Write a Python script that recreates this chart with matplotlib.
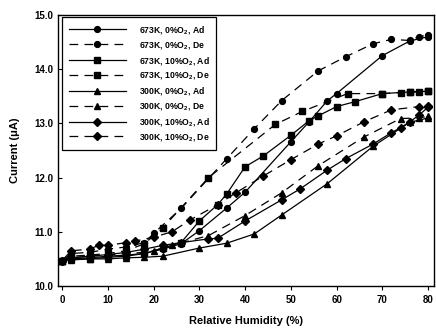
import matplotlib
matplotlib.use("Agg")
import matplotlib.pyplot as plt

plt.rcParams['font.family'] = ['Liberation Sans', 'DejaVu Sans']
plt.rcParams['mathtext.fontset'] = 'custom'
plt.rcParams['mathtext.bf'] = 'Liberation Sans:bold'
plt.rcParams['mathtext.rm'] = 'Liberation Sans:bold'

# ---- data ----
x_673_0_ad = [0, 2, 6, 10, 14, 18, 22, 26, 30, 36, 40, 50, 54, 58, 60, 70, 76, 80]
y_673_0_ad = [10.47, 10.5, 10.52, 10.55, 10.57, 10.6, 10.68, 10.78, 11.02, 11.44, 11.73, 12.66, 13.03, 13.42, 13.55, 14.25, 14.52, 14.6]

x_673_0_de = [0, 2, 6, 10, 14, 18, 20, 26, 36, 42, 48, 56, 62, 68, 72, 76, 78, 80]
y_673_0_de = [10.47, 10.6, 10.62, 10.68, 10.72, 10.8, 10.97, 11.43, 12.35, 12.9, 13.42, 13.97, 14.23, 14.47, 14.55, 14.53, 14.6, 14.63]

x_673_10_ad = [0, 2, 6, 10, 14, 18, 22, 26, 30, 34, 36, 40, 44, 50, 54, 56, 60, 64, 70, 74, 76, 78, 80]
y_673_10_ad = [10.47, 10.5, 10.5, 10.53, 10.55, 10.6, 10.7, 10.8, 11.2, 11.5, 11.7, 12.2, 12.4, 12.78, 13.05, 13.14, 13.31, 13.4, 13.55, 13.57, 13.58, 13.58, 13.6]

x_673_10_de = [0, 2, 6, 10, 14, 18, 22, 32, 46.6, 52.5, 62.4, 70, 76, 80]
y_673_10_de = [10.47, 10.55, 10.57, 10.6, 10.65, 10.78, 11.07, 12.0, 12.98, 13.22, 13.55, 13.55, 13.58, 13.6]

x_300_0_ad = [0, 2, 6, 10, 14, 18, 22, 30, 36, 42, 48, 58, 68, 76, 80]
y_300_0_ad = [10.47, 10.48, 10.5, 10.5, 10.52, 10.53, 10.55, 10.7, 10.79, 10.96, 11.31, 11.89, 12.58, 13.02, 13.1]

x_300_0_de = [0, 2, 6, 10, 14, 18, 20, 24, 32, 40, 48, 56, 66, 74, 78, 80]
y_300_0_de = [10.47, 10.52, 10.55, 10.57, 10.6, 10.62, 10.65, 10.75, 10.93, 11.3, 11.72, 12.22, 12.75, 13.09, 13.1, 13.13]

x_300_10_ad = [0, 2, 6, 10, 14, 18, 22, 26, 32, 34, 40, 48, 52, 58, 62, 68, 72, 74, 76, 78, 80]
y_300_10_ad = [10.47, 10.52, 10.55, 10.58, 10.62, 10.68, 10.75, 10.8, 10.87, 10.88, 11.2, 11.59, 11.79, 12.14, 12.35, 12.62, 12.83, 12.92, 13.03, 13.15, 13.3]

x_300_10_de = [0, 2, 6, 8, 10, 14, 16, 20, 24, 28, 34, 38, 44, 50, 56, 60, 66, 72, 78, 80]
y_300_10_de = [10.47, 10.65, 10.68, 10.75, 10.75, 10.8, 10.83, 10.9, 11.0, 11.22, 11.5, 11.72, 12.03, 12.33, 12.62, 12.77, 13.03, 13.25, 13.31, 13.32]

labels = [r"673K, 0%O$_\mathbf{2}$, Ad", r"673K, 0%O$_\mathbf{2}$, De",
          r"673K, 10%O$_\mathbf{2}$, Ad", r"673K, 10%O$_\mathbf{2}$, De",
          r"300K, 0%O$_\mathbf{2}$, Ad", r"300K, 0%O$_\mathbf{2}$, De",
          r"300K, 10%O$_\mathbf{2}$, Ad", r"300K, 10%O$_\mathbf{2}$, De"]

series = [(x_673_0_ad, y_673_0_ad, 'o', '-'),
          (x_673_0_de, y_673_0_de, 'o', '--'),
          (x_673_10_ad, y_673_10_ad, 's', '-'),
          (x_673_10_de, y_673_10_de, 's', '--'),
          (x_300_0_ad, y_300_0_ad, '^', '-'),
          (x_300_0_de, y_300_0_de, '^', '--'),
          (x_300_10_ad, y_300_10_ad, 'D', '-'),
          (x_300_10_de, y_300_10_de, 'D', '--')]

fig = plt.figure(figsize=(4.36, 3.33), dpi=100)
ax = fig.add_axes([58/436, 1-286/333, (434-58)/436, (286-15)/333])

for (xs, ys, m, ls), lab in zip(series, labels):
    ms = 4.2 if m != 'D' else 3.6
    ax.plot(xs, ys, linestyle=ls, marker=m, color='black', markersize=ms,
            linewidth=0.9, label=lab, dashes=(7, 5) if ls == '--' else (None, None))

ax.set_xlim(-0.9, 81.3)
ax.set_ylim(10, 15)
ax.set_xticks(range(0, 81, 10))
ax.set_yticks([10, 11, 12, 13, 14, 15])
ax.set_yticklabels(["10.0", "11.0", "12.0", "13.0", "14.0", "15.0"])
ax.tick_params(axis='both', labelsize=7, width=0.8, length=3)
ax.tick_params(axis='x', direction='out')
ax.tick_params(axis='y', direction='in')
for lbl in ax.get_xticklabels() + ax.get_yticklabels():
    lbl.set_fontweight('bold')
for sp in ax.spines.values():
    sp.set_linewidth(1.0)

ax.set_xlabel("Relative Humidity (%)", fontsize=8, fontweight='bold', labelpad=8)
ax.set_ylabel("Current (μA)", fontsize=8, fontweight='bold', labelpad=10)

leg = ax.legend(loc='upper left', bbox_to_anchor=(0.011, 0.993), fontsize=6.2,
                handlelength=6.6, labelspacing=0.45, handletextpad=1.5,
                borderpad=0.8, fancybox=False, framealpha=1, edgecolor='black',
                borderaxespad=0)
leg.get_frame().set_linewidth(0.9)
for t in leg.get_texts():
    t.set_fontweight('bold')

fig.savefig("out.png", dpi=100)
